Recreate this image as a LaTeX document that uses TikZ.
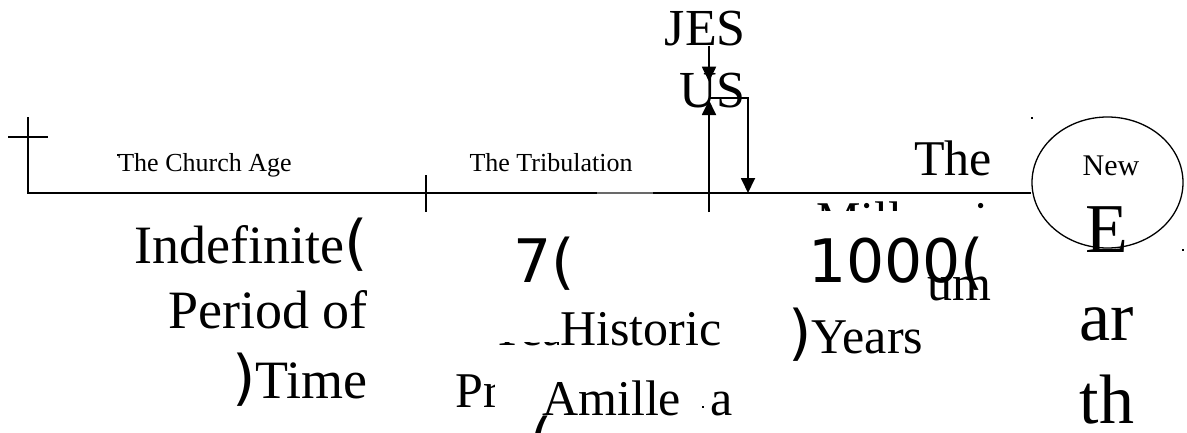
\documentclass[tikz,border=0pt]{standalone}
\usepackage{fontspec}
\setmainfont{Liberation Serif}
\newfontfamily\djv{DejaVu Sans}
\usepackage{tikz}
\usetikzlibrary{arrows.meta, positioning, shapes.geometric}

\definecolor{seggray}{RGB}{105,105,105}
\newcommand{\fsz}[1]{\fontsize{#1pt}{#1pt}\selectfont}

\begin{document}
\begin{tikzpicture}[x=1pt, y=-1pt,
        every node/.style={inner sep=0pt},
        small/.style={font=\fsz{26}},
        big/.style={font=\fsz{54}},
        mid/.style={font=\fsz{50}},
        earth/.style={font=\fsz{70}},
        timeline/.style={line width=1.8pt},
        arr/.style={line width=1.8pt, -{Triangle[length=15pt,width=14pt]}},
        speck/.style={fill, inner sep=0.9pt}]
        \useasboundingbox (0,0) rectangle (1187,432);
        \clip (0,0) rectangle (1187,432);

        % the line of time
        \coordinate (corner) at (28,117);
        \coordinate (start) at (28,193);
        \coordinate (tribstart) at (426,193);
        \coordinate (cross) at (709,212);
        \coordinate (greyfrom) at (597,193);
        \coordinate (greyto) at (653,193);
        \node[draw, ellipse, line width=1.3pt, minimum width=151pt, minimum height=131pt] (newearth) at (1107.5,182.5) {};
        \draw[timeline] (corner) -- (start) -- (greyfrom);
        \draw[timeline, draw=seggray] (greyfrom) -- (greyto);
        \draw[timeline] (greyto) -- (start -| newearth.west);
        \draw[timeline] (corner) ++(-20,20) -- ++(40,0);
        \draw[timeline] (tribstart) ++(0,-18) -- ++(0,37);

        % second coming
        \node[font=\fsz{52}, anchor=base east] (jes) at (746,45) {JES};
        \node[font=\fsz{52}] (us) [below=62pt of jes.base east, anchor=base east] {US};
        \draw[arr] (jes.south -| cross) -- ++(0,36);
        \draw[arr] (cross) -- ++(0,-112);
        \draw[arr] (cross) ++(0,-114) -| (748,193);

        \node[small, anchor=base] (church) at (205,171) {The Church Age};
        \node[small, anchor=base] (trib) at (551,171) {The Tribulation};

        % church age
        \node[big, anchor=base east] (indef) at (368,263) {Indefinite{\djv\fsz{60}(}};
        \node[big] (period) [below=65pt of indef.base east, anchor=base east] {Period of};
        \node[big] (time) [below=70pt of period.base east, anchor=base east] {{\djv\fsz{60})}Time};

        % tribulation
        \node[font=\djv\fsz{60}, anchor=base west] (seven) at (513,282) {7(};
        \begin{scope}
            \clip (487,342.5) rectangle (558,346.5);
            \node[mid, anchor=base west] (tribyrs) at (466,345) {{\djv\fsz{60})}Years};
        \end{scope}
        \node[mid, anchor=base west] (historic) at (560,345) {Historic};
        \begin{scope}
            \clip (440,360) rectangle (494,432);
            \node[mid, anchor=base west] (pre) at (455,407) {Pre};
        \end{scope}
        \node[mid, anchor=base west] (amille) at (542,415) {Amille};
        \node[mid, anchor=base west] (amilla) at (710,415) {a};
        \node[font=\djv\fsz{60}, anchor=base west] (amparen) at (529,461) {(};

        % millennium
        \node[mid, anchor=base east] (the) at (992,175) {The};
        \begin{scope}
            \clip (800,197) rectangle (1000,210);
            \node[mid, anchor=base west] (mill) at (816,236) {Millenni};
        \end{scope}
        \node[font=\djv\fsz{60}, anchor=base west] (thousand) at (808,282) {1000(};
        \node[mid, anchor=base east] (um) at (992,300) {um};
        \node[mid, anchor=base west] (milyrs) at (788,353) {{\djv\fsz{60})}Years};

        % new earth
        \node[font=\fsz{30}, anchor=base] (new) at (1111,175) {New};
        \node[earth, anchor=base] (e) at (1107,252) {E};
        \node[earth] (ar) [below=88pt of e.base, anchor=base] {ar};
        \node[earth] (th) [below=83pt of ar.base, anchor=base] {th};

        \node[speck] (s1) at (1032,118) {};
        \node[speck] (s2) at (1183,250) {};
        \node[speck] (s3) at (118,155) {};
        \node[speck] (s4) at (703,407) {};
    \end{tikzpicture}
\end{document}
